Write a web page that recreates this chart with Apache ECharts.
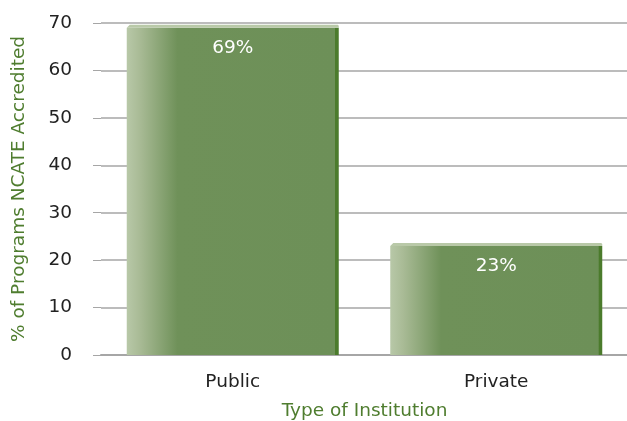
<!DOCTYPE html>
<html><head><meta charset="utf-8">
<script src="https://cdn.jsdelivr.net/npm/echarts@6/dist/echarts.min.js"></script>
<style>html,body{margin:0;padding:0;background:#fff}#c{width:627px;height:421px}</style>
</head><body><div id="c"></div>
<script>
const categories = ['Public', 'Private'];
const values = [69, 23];
const valueLabels = ['69%', '23%'];
const yTicks = [0, 10, 20, 30, 40, 50, 60, 70];

const FONT = 'DejaVu Sans';
const FS = 18.5;
const chart = echarts.init(document.getElementById('c'));
const barW = 212;
chart.setOption({
  animation: false,
  grid: { left: 101, right: -1, top: 23, bottom: 66, containLabel: false, outerBoundsMode: 'none' },
  xAxis: {
    type: 'category', data: categories,
    name: 'Type of Institution', nameLocation: 'middle', nameGap: 47,
    nameTextStyle: { color: '#4f7d2f', fontSize: FS, fontFamily: FONT },
    axisLine: { lineStyle: { color: '#a6a6a6', width: 2 } },
    axisTick: { show: false },
    axisLabel: { color: '#222', fontSize: FS, fontFamily: FONT, margin: 18 }
  },
  yAxis: {
    type: 'value', min: yTicks[0], max: yTicks[yTicks.length - 1], interval: 10,
    name: '% of Programs NCATE Accredited', nameLocation: 'middle', nameGap: 72,
    nameTextStyle: { color: '#4f7d2f', fontSize: FS, fontFamily: FONT },
    axisLine: { show: false },
    axisTick: { show: true, length: 8, lineStyle: { color: '#a6a6a6' } },
    axisLabel: { color: '#222', fontSize: FS, fontFamily: FONT, margin: 29 },
    splitLine: { lineStyle: { color: '#a6a6a6', width: 1.5 } }
  },
  series: [{
    type: 'bar', data: values, barWidth: barW, z: 2,
    itemStyle: {
      color: new echarts.graphic.LinearGradient(0, 0, 1, 0, [
        { offset: 0, color: '#b8c8a8' },
        { offset: 0.06, color: '#a9bb96' },
        { offset: 0.24, color: '#6f9159' },
        { offset: 0.982, color: '#6d9058' },
        { offset: 0.983, color: '#4b7b2c' },
        { offset: 1, color: '#4b7b2c' }
      ])
    },
    label: {
      show: true, position: 'insideTop', distance: 11,
      formatter: p => valueLabels[p.dataIndex],
      color: '#fff', fontSize: FS, fontFamily: FONT
    }
  }, {
    type: 'custom', z: 3, data: values.map((v, i) => [i, v]),
    renderItem: (params, api) => {
      const p = api.coord([api.value(0), api.value(1)]);
      const x0 = p[0] - barW / 2, x1 = p[0] + barW / 2, y = p[1];
      return {
        type: 'polygon',
        shape: { points: [[x0, y], [x0 + 3, y - 3], [x1 - 1, y - 3], [x1, y - 2], [x1, y]] },
        style: { fill: '#b9c9a8' }
      };
    }
  }]
});
</script></body></html>
